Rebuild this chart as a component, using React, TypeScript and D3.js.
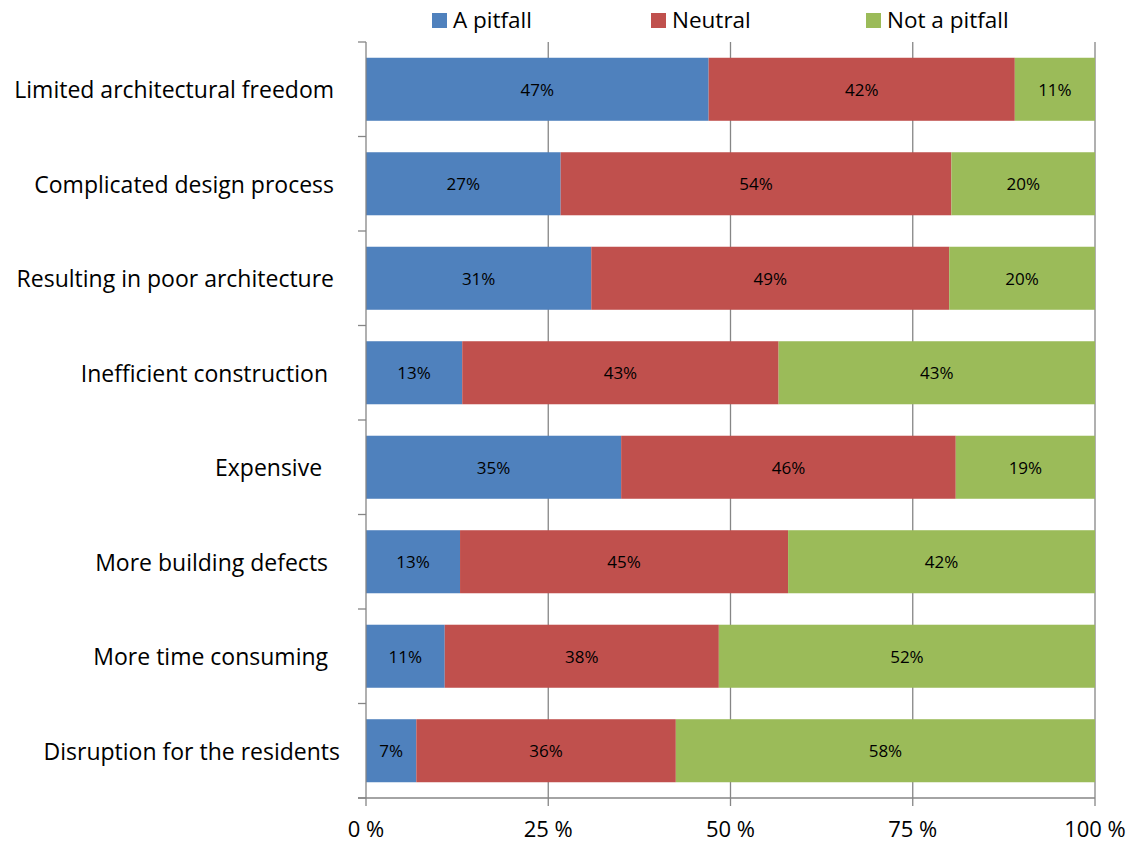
import React from "react";
import * as d3 from "d3";

const categories = [
  "Limited architectural freedom ",
  "Complicated design process ",
  "Resulting in poor architecture ",
  "Inefficient construction  ",
  "Expensive   ",
  "More building defects  ",
  "More time consuming  ",
  "Disruption for the residents",
];
const seriesNames = ["A pitfall", "Neutral", "Not a pitfall"];
const pitfall = [47, 26.7, 30.9, 13.2, 35.0, 12.9, 10.8, 6.9];
const neutral = [42, 53.6, 49.1, 43.4, 45.9, 45.0, 37.6, 35.6];
const notPitfall = [11, 19.7, 20.0, 43.4, 19.1, 42.1, 51.6, 57.5];
const xTicks = [0, 25, 50, 75, 100];
const colors = ["#4F81BD", "#C0504D", "#9BBB59"];

const FONT = "'Open Sans', sans-serif";

export default function App() {
  const W = 1138, H = 844;
  const left = 366, right = 1095, top = 42, bottom = 798;
  const x = d3.scaleLinear().domain([0, 100]).range([left, right]);
  const y = d3.scaleBand<string>().domain(categories).range([top, bottom]).paddingInner(0.333).paddingOuter(0.1667);
  const rows = categories.map((c, i) => ({ cat: c, s0: pitfall[i], s1: neutral[i], s2: notPitfall[i] }));
  const stack = d3.stack<any>().keys(["s0", "s1", "s2"]).offset(d3.stackOffsetExpand);
  const series = stack(rows);
  const axisColor = "#868686";
  const legendX = [432, 651, 866];
  const bounds = d3.range(categories.length + 1).map((i) => top + (i * (bottom - top)) / categories.length);

  return (
    <svg width={W} height={H} style={{ position: "absolute", left: 0, top: 0, background: "#fff" }} fontFamily={FONT}>
      {/* gridlines */}
      {xTicks.slice(1).map((t) => (
        <line key={"g" + t} x1={x(t)} x2={x(t)} y1={top} y2={bottom + 8} stroke={axisColor} strokeWidth={1.3} />
      ))}
      {/* bars */}
      {series.map((s, si) => (
        <g key={si}>
          {s.map((d, i) => {
            const x0 = x(d[0] * 100), x1 = x(d[1] * 100);
            const val = [pitfall, neutral, notPitfall][si][i];
            return (
              <g key={i}>
                <rect x={x0} y={y(categories[i])} width={x1 - x0} height={y.bandwidth()} fill={colors[si]} />
                <text x={(x0 + x1) / 2} y={(y(categories[i]) as number) + y.bandwidth() / 2} textAnchor="middle" dominantBaseline="central" fontSize={17} fill="#000">
                  {Math.round(val) + "%"}
                </text>
              </g>
            );
          })}
        </g>
      ))}
      {/* y axis */}
      <line x1={left} x2={left} y1={top} y2={bottom + 8} stroke={axisColor} strokeWidth={1.3} />
      {bounds.map((b, i) => (
        <line key={"yt" + i} x1={left - 8} x2={left} y1={b} y2={b} stroke={axisColor} strokeWidth={1.3} />
      ))}
      {/* x axis */}
      <line x1={left - 8} x2={right} y1={bottom} y2={bottom} stroke={axisColor} strokeWidth={1.3} />
      {xTicks.map((t) => (
        <text key={"xl" + t} x={x(t)} y={837} textAnchor="middle" fontSize={22} fill="#000">
          {t + " %"}
        </text>
      ))}
      {/* category labels */}
      {categories.map((c) => (
        <text key={c} x={340} y={(y(c) as number) + y.bandwidth() / 2} textAnchor="end" dominantBaseline="central" fontSize={23} fill="#000" style={{ whiteSpace: "pre" }}>
          {c}
        </text>
      ))}
      {/* legend */}
      {seriesNames.map((n, i) => (
        <g key={n}>
          <rect x={legendX[i]} y={13} width={15} height={15} fill={colors[i]} />
          <text x={legendX[i] + 21} y={19} dominantBaseline="central" fontSize={22.5} fill="#000">{n}</text>
        </g>
      ))}
    </svg>
  );
}
